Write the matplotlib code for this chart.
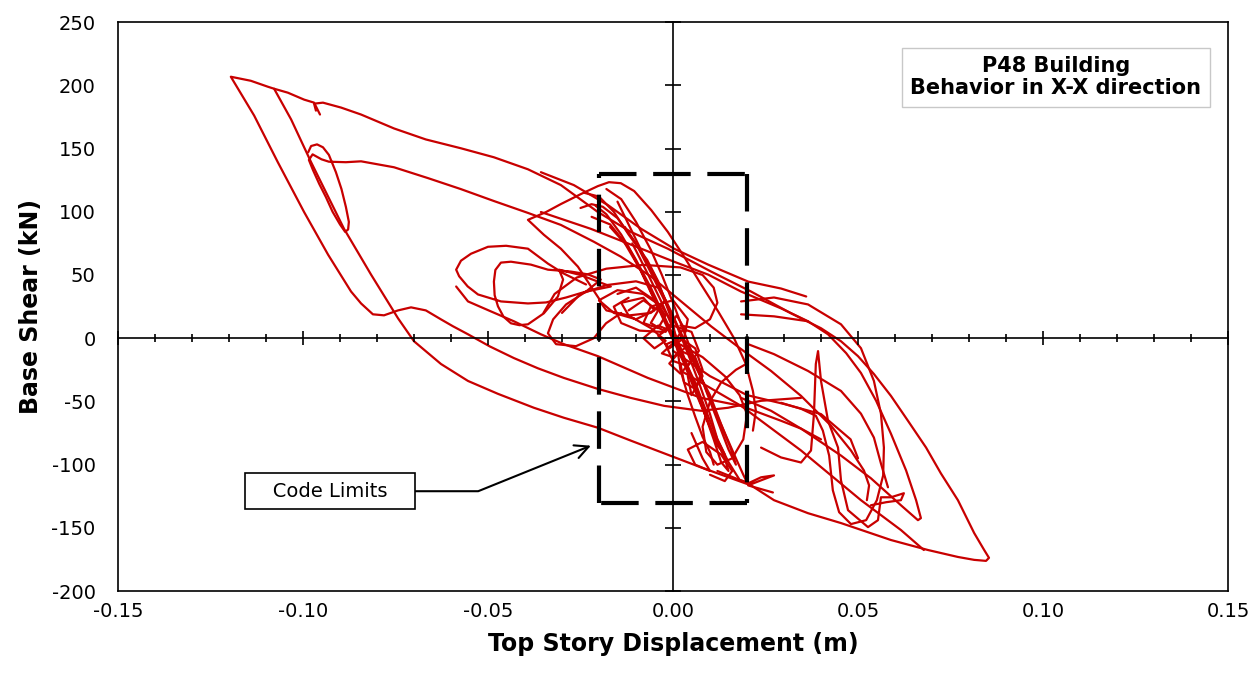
import numpy as np
import matplotlib
matplotlib.use("Agg")
from matplotlib import pyplot as plt
from matplotlib.ticker import MultipleLocator

plt.rcParams['font.family'] = ['DejaVu Sans']
plt.rcParams['axes.unicode_minus'] = False

# hysteresis trace (displacement mm, base shear kN)
outer_left_loop = [(34.6, -47.2), (23.8, -49.5), (14.9, -55.0), (7.6, -57.4), (-2.4, -53.5),
                   (-11.4, -47.2), (-20.3, -40.1), (-29.5, -31.4), (-36.5, -23.8), (-43.0, -15.7),
                   (-49.5, -6.5), (-55.4, 3.1), (-59.5, 9.5), (-62.7, 14.9), (-66.8, 22.0),
                   (-70.8, 24.4), (-74.3, 22.0), (-78.1, 18.1), (-81.1, 18.9), (-84.3, 27.5),
                   (-87.0, 36.9), (-93.2, 66.0), (-99.7, 99.8), (-106.8, 139.2), (-113.2, 176.1),
                   (-119.5, 206.8), (-114.1, 203.6), (-109.5, 198.9), (-107.8, 197.3),
                   (-104.1, 194.2), (-99.7, 188.7), (-97.0, 186.3), (-96.2, 181.6), (-95.4, 176.9)]

upper_to_tip = [(-96.5, 180.0), (-97.0, 185.5), (-94.6, 186.3), (-89.7, 182.4), (-84.3, 176.9),
                (-75.4, 165.9), (-66.8, 157.2), (-57.3, 150.2), (-48.4, 143.1), (-39.2, 133.6),
                (-30.3, 121.1), (-20.3, 99.8), (-11.4, 84.1), (-1.4, 70.8), (10.3, 52.7),
                (21.1, 36.9), (31.9, 19.7), (40.0, 7.9), (45.4, -2.4), (50.0, -14.2),
                (54.3, -28.3), (58.9, -45.6), (63.5, -65.3), (68.4, -86.5), (72.4, -106.9),
                (77.0, -128.1), (81.4, -154.1), (84.1, -167.5), (85.4, -173.7), (84.6, -176.1),
                (81.4, -175.3), (77.0, -173.0), (68.9, -167.5), (58.9, -159.6), (45.4, -146.2),
                (36.5, -138.4), (27.3, -128.1), (21.1, -116.4), (7.6, -102.2), (-11.4, -81.0),
                (-20.3, -70.8), (-29.5, -62.9), (-37.6, -55.0), (-47.3, -44.0), (-55.4, -33.8),
                (-62.7, -20.4), (-70.0, -2.4), (-74.3, 15.7), (-81.6, 50.3), (-88.9, 86.5),
                (-97.8, 139.2), (-103.2, 173.0), (-107.8, 197.3)]

ellipse_middle = [(-98.6, 147.0), (-97.8, 152.0), (-96.2, 153.3), (-94.6, 151.0), (-93.0, 145.0),
                  (-91.1, 131.3), (-89.6, 118.0), (-88.4, 103.8), (-87.6, 92.0), (-87.8, 86.0),
                  (-88.6, 84.1), (-90.0, 90.0), (-92.0, 100.0), (-93.8, 111.6), (-95.6, 122.0),
                  (-97.3, 133.0), (-98.4, 141.0), (-97.4, 145.4), (-95.0, 141.5), (-93.0, 139.6),
                  (-88.4, 139.2), (-84.3, 139.9), (-75.4, 135.2), (-66.2, 126.6), (-57.3, 117.9),
                  (-48.4, 108.5), (-39.2, 99.1), (-30.3, 89.6), (-21.4, 76.3), (-14.1, 64.5),
                  (-5.9, 48.7), (2.2, 29.1), (10.3, 9.4), (18.4, -8.6), (26.5, -25.9),
                  (34.6, -45.6), (42.7, -69.2), (48.1, -88.8), (51.6, -104.6), (53.0, -116.4),
                  (52.4, -128.1)]

box_top_loop = [(-19.5, 29.1), (-25.7, 56.6), (-30.3, 70.8), (-34.9, 81.8), (-39.2, 93.6),
                (-34.3, 99.8), (-30.3, 106.1), (-24.9, 114.0), (-20.3, 120.3), (-17.3, 123.4),
                (-14.1, 122.6), (-10.5, 116.4), (-5.9, 101.4), (-1.4, 84.1), (3.0, 64.5),
                (7.6, 42.5), (12.2, 21.2), (16.5, 0.0), (19.7, -20.4), (21.6, -41.7),
                (22.4, -57.4), (21.6, -73.1)]

left_loops = [(-23.5, 42.5), (-29.5, 51.1), (-33.8, 59.0), (-39.2, 70.8), (-45.1, 73.1),
              (-50.0, 72.3), (-54.6, 66.8), (-57.3, 61.3), (-58.6, 54.2), (-57.8, 49.0),
              (-55.5, 41.0), (-52.7, 34.6), (-46.5, 29.1), (-39.2, 27.5), (-34.3, 28.3),
              (-28.9, 32.2), (-23.5, 36.9), (-19.5, 46.4), (-23.0, 50.5), (-27.6, 52.7),
              (-33.8, 54.2), (-38.4, 58.2), (-43.8, 60.5), (-46.5, 59.8), (-48.0, 54.0),
              (-48.4, 44.8), (-48.2, 34.0), (-47.3, 25.2), (-45.8, 17.0), (-43.8, 11.8),
              (-41.5, 10.3), (-39.2, 11.0), (-34.9, 19.7), (-31.1, 33.0), (-29.7, 46.4),
              (-30.8, 54.2), (-25.0, 50.0), (-16.8, 40.9), (-23.5, 36.9), (-28.9, 26.7),
              (-32.4, 14.9), (-33.8, 3.9), (-31.6, -4.7), (-26.2, -6.3), (-21.4, 0.0),
              (-18.1, 11.8), (-14.0, 20.0)]

lower_mid = [(-58.6, 40.9), (-55.4, 29.1), (-49.2, 21.2), (-43.0, 13.4), (-35.7, 3.1),
             (-29.5, -4.7), (-20.3, -14.2), (-6.8, -31.4), (7.6, -47.2), (18.4, -53.5),
             (29.2, -65.3), (34.6, -71.5), (40.0, -80.0)]

upper_cross = [(-35.7, 131.3), (-26.8, 121.1), (-17.6, 105.3), (-8.6, 86.5), (0.3, 70.8),
               (9.5, 58.2), (20.3, 44.8), (29.2, 39.3), (36.0, 33.0)]
upper_cross2 = [(-35.7, 99.8), (-22.2, 86.5), (-8.6, 70.8), (0.3, 60.5), (9.5, 50.3),
                (18.4, 36.9), (29.2, 23.6), (36.5, 13.4)]

steep_a = [(-25.0, 103.0), (-22.0, 106.0), (-19.0, 104.0), (-15.0, 95.0), (-10.0, 75.0),
           (-6.0, 52.0), (-2.0, 28.0), (2.0, 5.0), (6.0, -20.0), (10.0, -48.0), (14.0, -75.0),
           (17.0, -95.0), (19.0, -108.0), (20.0, -114.0), (18.0, -112.0), (15.0, -98.0),
           (12.0, -80.0), (9.0, -58.0), (6.0, -35.0), (2.0, -10.0), (-2.0, 15.0),
           (-6.0, 40.0), (-10.0, 62.0), (-14.0, 82.0), (-18.0, 98.0), (-21.0, 105.0)]
steep_b = [(-22.0, 96.0), (-17.0, 90.0), (-12.0, 72.0), (-8.0, 50.0), (-4.0, 25.0), (0.0, 2.0),
           (4.0, -25.0), (8.0, -55.0), (11.0, -80.0), (13.0, -98.0), (15.0, -105.0),
           (14.0, -95.0), (10.0, -70.0), (6.0, -42.0), (3.0, -20.0), (-1.0, 5.0),
           (-5.0, 30.0), (-9.0, 55.0), (-13.0, 75.0), (-17.0, 88.0)]
steep_c = [(-18.0, 118.0), (-14.0, 110.0), (-10.0, 92.0), (-6.0, 70.0), (-3.0, 50.0),
           (0.0, 28.0), (3.0, 5.0), (6.0, -18.0), (9.0, -42.0), (12.0, -65.0), (15.0, -88.0),
           (17.0, -100.0), (16.0, -90.0), (13.0, -68.0), (10.0, -45.0), (6.0, -22.0),
           (3.0, -2.0), (0.0, 18.0), (-4.0, 42.0), (-8.0, 66.0), (-12.0, 90.0), (-15.0, 108.0)]
steep_d = [(-13.0, 88.0), (-9.0, 70.0), (-5.0, 50.0), (-2.0, 30.0), (1.0, 10.0), (4.0, -12.0),
           (7.0, -35.0), (10.0, -60.0), (12.0, -80.0), (14.0, -92.0), (12.0, -85.0),
           (9.0, -62.0), (6.0, -38.0), (3.0, -15.0), (0.0, 8.0), (-3.0, 28.0), (-7.0, 52.0),
           (-11.0, 75.0)]
steep_e = [(-24.0, 115.0), (-20.0, 112.0), (-16.0, 100.0), (-12.0, 82.0), (-7.0, 62.0),
           (-4.0, 45.0), (-2.0, 28.0), (0.0, 12.0), (1.0, -5.0), (2.0, -25.0), (4.0, -45.0),
           (6.0, -62.0), (8.0, -78.0), (10.0, -90.0), (11.0, -100.0)]
box_right_loop = [(2.0, -5.0), (8.0, -15.0), (14.0, -30.0), (18.0, -45.0), (20.0, -60.0),
                  (19.0, -80.0), (16.0, -95.0), (12.0, -100.0), (9.0, -90.0), (8.0, -70.0),
                  (10.0, -50.0), (13.0, -35.0), (17.0, -25.0), (20.0, -20.0)]
centre_scribble = [(-15.0, 35.0), (-10.0, 40.0), (-5.0, 30.0), (-2.0, 18.0), (-4.0, 8.0),
                   (-8.0, 12.0), (-6.0, 25.0), (0.0, 30.0), (4.0, 15.0), (3.0, 0.0),
                   (-1.0, -8.0), (-4.0, 2.0), (0.0, 10.0), (5.0, 5.0), (7.0, -10.0),
                   (4.0, -22.0), (0.0, -18.0), (-2.0, -5.0), (2.0, 0.0), (6.0, -8.0),
                   (8.0, -25.0), (6.0, -40.0), (3.0, -35.0), (2.0, -20.0)]
centre_scribble2 = [(-12.0, 22.0), (-8.0, 30.0), (-4.0, 22.0), (-6.0, 12.0), (-2.0, 5.0),
                    (1.0, 18.0), (3.0, 8.0), (0.0, -4.0), (-3.0, -12.0), (0.0, -15.0),
                    (4.0, -6.0), (5.0, -18.0), (2.0, -28.0), (-1.0, -20.0), (2.0, -10.0),
                    (6.0, -15.0), (8.0, -30.0), (5.0, -45.0), (4.0, -30.0)]
centre_scribble3 = [(-20.0, 30.0), (-16.0, 20.0), (-10.0, 15.0), (-5.0, 22.0), (-8.0, 32.0),
                    (-14.0, 28.0), (-12.0, 18.0), (-6.0, 8.0), (-2.0, -2.0), (-5.0, -8.0),
                    (-8.0, 0.0), (-4.0, 10.0), (0.0, 5.0), (2.0, -8.0)]
box_left_loops = [(-30.0, 20.0), (-25.0, 35.0), (-18.0, 42.0), (-10.0, 45.0), (-4.0, 40.0),
                  (-2.0, 30.0), (-6.0, 20.0), (-12.0, 18.0), (-18.0, 22.0), (-20.0, 30.0),
                  (-15.0, 38.0), (-8.0, 35.0), (-3.0, 25.0), (0.0, 12.0), (-3.0, 5.0),
                  (-9.0, 6.0), (-14.0, 12.0), (-16.0, 25.0), (-12.0, 32.0)]
box_arc = [(-35.0, 20.0), (-32.0, 35.0), (-26.0, 48.0), (-18.0, 55.0), (-8.0, 58.0),
           (2.0, 56.0), (8.0, 50.0), (11.0, 40.0), (12.0, 28.0), (10.0, 15.0), (6.0, 8.0),
           (2.0, 10.0)]
lower_wiggle = [(5.0, -75.0), (8.0, -95.0), (10.0, -105.0), (6.0, -100.0), (4.0, -88.0),
                (8.0, -82.0), (13.0, -92.0), (16.0, -105.0), (14.0, -113.0), (10.0, -108.0)]
centre_to_lobe = [(0.0, -10.0), (10.0, -30.0), (20.0, -45.0), (30.0, -52.0), (40.0, -60.0),
                  (48.0, -80.0), (50.0, -95.0)]

right_inner = [(18.4, 29.1), (27.3, 32.2), (36.5, 26.7), (45.4, 11.0), (50.8, -7.9),
               (54.3, -33.8), (56.2, -59.7), (57.0, -86.5), (56.8, -108.5), (55.1, -128.1),
               (52.2, -143.9), (48.1, -147.0), (44.9, -137.6), (43.2, -120.3), (42.2, -92.8),
               (40.5, -73.1), (38.6, -61.3), (34.6, -55.8), (29.2, -51.1)]
right_spike = [(23.8, -86.5), (29.2, -94.3), (34.6, -98.3), (37.3, -88.8), (38.1, -59.7),
               (38.6, -20.4), (39.2, -10.2), (40.0, -33.8), (41.9, -65.3), (44.6, -86.5),
               (45.4, -112.4), (47.3, -136.0), (52.7, -149.4), (55.4, -143.9), (56.2, -125.8),
               (58.9, -125.8), (62.4, -122.6), (61.6, -128.1), (57.6, -129.7), (53.5, -132.1)]
right_second = [(18.4, 18.9), (27.3, 17.3), (36.5, 13.4), (41.9, 3.1), (46.8, -11.8),
                (50.8, -27.5), (54.9, -49.5), (58.9, -75.5), (63.0, -104.6), (65.7, -128.1),
                (67.0, -142.3), (66.2, -143.9), (61.6, -132.1), (53.5, -110.8), (45.4, -92.8),
                (34.6, -71.5), (26.5, -57.4), (18.4, -47.2)]
right_diag = [(2.2, -25.9), (18.4, -53.5), (34.6, -88.8), (50.8, -128.1), (61.6, -151.7),
              (67.8, -167.5)]
right_mid = [(20.3, -4.7), (27.3, -12.6), (36.5, -25.9), (45.4, -41.7), (50.8, -59.7),
             (54.3, -78.6), (56.2, -99.1), (58.1, -117.9)]
corner_hook = [(12.0, -105.0), (20.3, -114.8), (23.8, -110.0), (27.3, -108.5), (23.8, -112.4),
               (20.3, -116.4), (27.0, -122.0)]

strokes = [outer_left_loop, upper_to_tip, ellipse_middle, box_top_loop, left_loops, lower_mid,
           upper_cross, upper_cross2, steep_a, steep_b, steep_c, steep_d, steep_e,
           box_right_loop, centre_scribble, centre_scribble2, centre_scribble3,
           box_left_loops, box_arc, lower_wiggle, centre_to_lobe, right_inner, right_spike,
           right_second, right_diag, right_mid, corner_hook]

code_limit_disp = 0.02   # m
code_limit_shear = 130   # kN

x_ticks = [-0.15, -0.10, -0.05, 0.00, 0.05, 0.10, 0.15]
y_ticks = [-200, -150, -100, -50, 0, 50, 100, 150, 200, 250]

fig = plt.figure(figsize=(12.55, 6.74), dpi=100)
rect = [0.094, 0.123, 0.8845, 0.8442]
ax = fig.add_axes(rect)

for s in strokes:
    pts = np.array(s)
    ax.plot(pts[:, 0] / 1000.0, pts[:, 1], color='#C80000', lw=1.6,
            solid_joinstyle='round', solid_capstyle='round', zorder=3)

ax.set_xlim(-0.15, 0.15)
ax.set_ylim(-200, 250)
ax.set_xticks(x_ticks)
ax.set_xticklabels(['%.2f' % v for v in x_ticks])
ax.set_yticks(y_ticks)
ax.tick_params(length=0, labelsize=14)
ax.tick_params(axis='y', pad=16)
ax.tick_params(axis='x', pad=8)
for sp in ax.spines.values():
    sp.set_linewidth(1.2)
ax.set_xlabel('Top Story Displacement (m)', fontsize=17, fontweight='bold', labelpad=8)
ax.set_ylabel('Base Shear (kN)', fontsize=17, fontweight='bold', labelpad=6)

# axes crossing at the origin with their own ticks
ax2 = fig.add_axes(rect)
ax2.set_xlim(-0.15, 0.15)
ax2.set_ylim(-200, 250)
ax2.patch.set_visible(False)
ax2.spines['left'].set_position(('data', 0))
ax2.spines['bottom'].set_position(('data', 0))
ax2.spines['right'].set_visible(False)
ax2.spines['top'].set_visible(False)
ax2.spines['left'].set_linewidth(1.2)
ax2.spines['bottom'].set_linewidth(1.2)
ax2.xaxis.set_major_locator(MultipleLocator(0.05))
ax2.xaxis.set_minor_locator(MultipleLocator(0.01))
ax2.yaxis.set_major_locator(MultipleLocator(50))
ax2.tick_params(which='both', direction='inout', labelbottom=False, labelleft=False, width=1.2)
ax2.tick_params(axis='x', which='major', length=10)
ax2.tick_params(axis='x', which='minor', length=6)
ax2.tick_params(axis='y', which='major', length=12)

# code limits box: each edge starts with a dash at its corner
d, v = code_limit_disp, code_limit_shear
edges = [([-d, d], [v, v]), ([d, d], [v, -v]), ([d, -d], [-v, -v]), ([-d, -d], [-v, v])]
for ex, ey in edges:
    ln, = ax.plot(ex, ey, color='black', lw=3, dash_capstyle='butt', zorder=5)
    ln.set_dashes([9, 4])

ax.annotate('   Code Limits   ', xy=(-0.0222, -85), xytext=(-0.0927, -121),
            fontsize=14, ha='center', va='center',
            bbox=dict(boxstyle='square,pad=0.45', fc='white', ec='black', lw=1.2),
            arrowprops=dict(arrowstyle='->,head_length=0.7,head_width=0.35', color='black',
                            lw=1.5, connectionstyle='angle,angleA=0,angleB=22,rad=0',
                            shrinkA=0, shrinkB=0),
            zorder=6)

ax.text(0.845, 0.903, 'P48 Building\nBehavior in X-X direction', transform=ax.transAxes,
        fontsize=15, fontweight='bold', ha='center', va='center', linespacing=1.15,
        bbox=dict(boxstyle='square,pad=0.4', fc='white', ec='#c8c8c8', lw=1), zorder=6)

fig.savefig('out.png', dpi=100, facecolor='white')
